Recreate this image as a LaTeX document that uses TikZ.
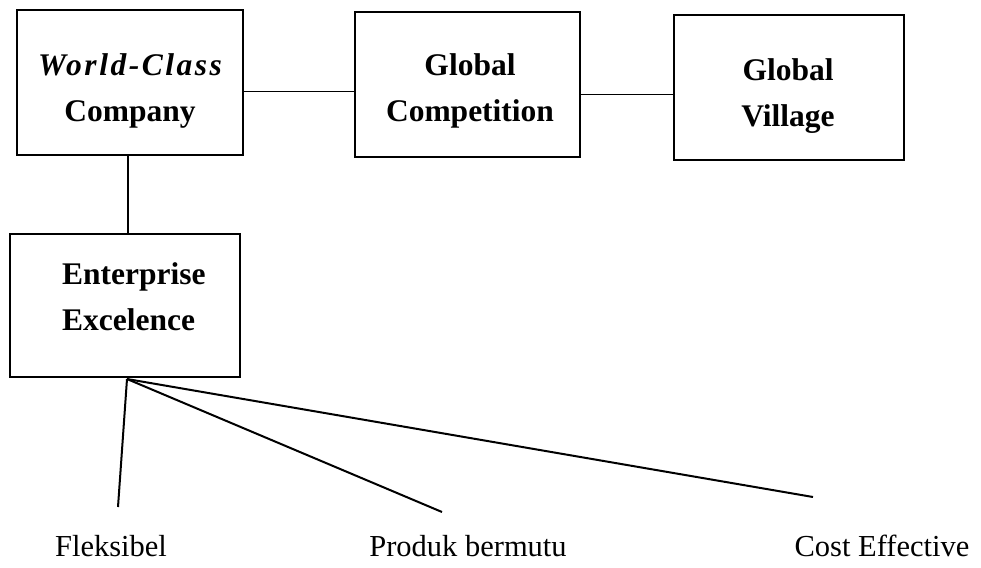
\documentclass[tikz,border=0pt]{standalone}
\usepackage{fontspec}
\setmainfont{Liberation Serif}
\begin{document}
\begin{tikzpicture}[x=1pt,y=-1pt,
  box/.style={draw, line width=1.6pt, minimum height=145pt, inner sep=0pt},
  boxtext/.style={font=\bfseries\fontsize{31.5}{46}\selectfont, align=center, inner sep=0pt},
  hconn/.style={line width=1.3pt},
  conn/.style={line width=2pt},
  lbl/.style={font=\fontsize{30.5}{36}\selectfont, inner sep=0pt, anchor=base}]
\useasboundingbox (0,0) rectangle (981,567);
\node[box, minimum width=226pt] (wcc) at (130,82.5) {};
\node[box, minimum width=225pt] (gc) at (467.5,84.5) {};
\node[box, minimum width=230pt] (gv) at (789,87.5) {};
\node[box, minimum width=230pt, minimum height=143pt] (ee) at (125,305.5) {};
\node[boxtext] (wcct) at (130,90.5) {{\itshape\addfontfeatures{LetterSpace=8}World-Class}\\Company};
\node[boxtext] (gct) at (470,90.5) {Global\\Competition};
\node[boxtext] (gvt) at (788,96.5) {Global\\Village};
\node[boxtext, align=left, anchor=west] (eet) at (62,296.5) {Enterprise\\Excelence};
\coordinate (hub) at (127,379);
\coordinate (fe) at (118,507);
\coordinate (pe) at (442,512);
\coordinate (ce) at (813,497);
\node[lbl] (fl) at (111,556) {Fleksibel};
\node[lbl] (pb) at (468,556) {Produk bermutu};
\node[lbl] (cf) at (882,556) {Cost Effective};
\draw[hconn] ([yshift=-9pt]wcc.east) -- ([yshift=-9pt]wcc.east -| gc.west);
\draw[hconn] ([yshift=-10pt]gc.east) -- ([yshift=-10pt]gc.east -| gv.west);
\draw[hconn] ([xshift=-2pt]wcc.south) -- ([xshift=-2pt]wcc.south |- ee.north);
\draw[conn] (hub) -- (fe);
\draw[conn] (hub) -- (pe);
\draw[conn] (hub) -- (ce);
\end{tikzpicture}
\end{document}
